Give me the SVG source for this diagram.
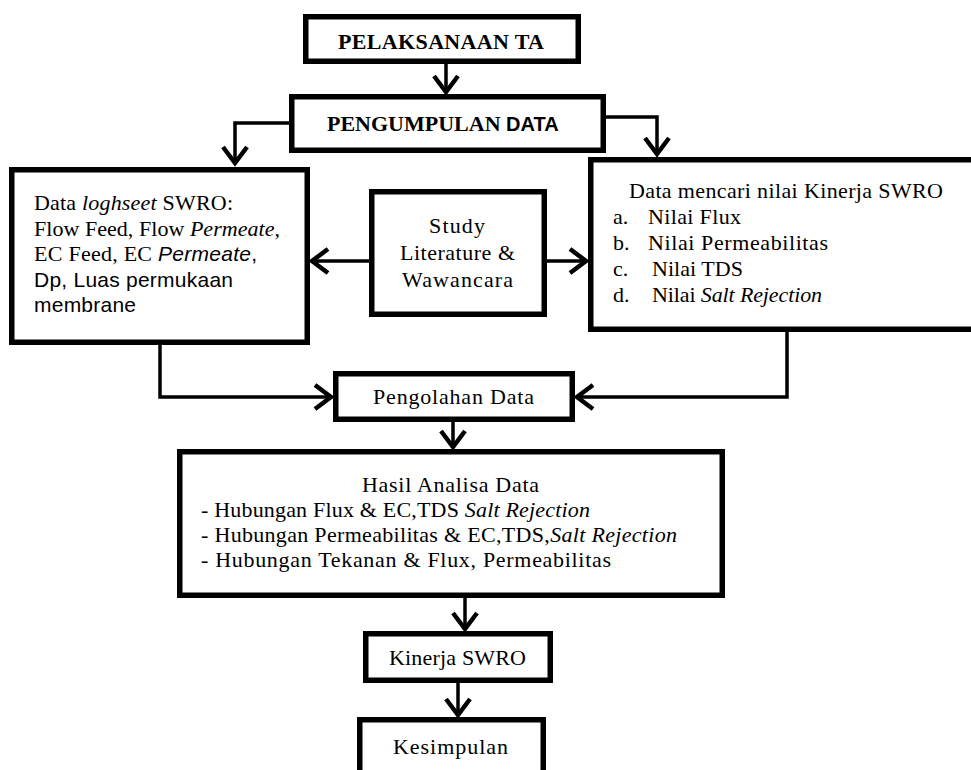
<svg xmlns="http://www.w3.org/2000/svg" width="971" height="770" viewBox="0 0 971 770">
<defs>
<style>
.box{fill:#fff;stroke:#000;stroke-width:5.5}
.con{fill:none;stroke:#000;stroke-width:3.5}
.t{font-family:"Liberation Serif","Times New Roman",serif;font-size:22px;fill:#000}
.s{font-family:"Liberation Sans",Arial,sans-serif;font-size:21px;fill:#000}
.b{font-weight:bold}
.i{font-style:italic}
</style>
<marker id="v" markerUnits="userSpaceOnUse" viewBox="-22 -16 26 32" markerWidth="26" markerHeight="32" refX="0" refY="0" orient="auto">
<path d="M-16,-12 L0,0 L-16,12" fill="none" stroke="#000" stroke-width="4.5"/>
</marker>
</defs>
<rect width="971" height="770" fill="#fff"/>
<g id="connectors">
<path class="con" d="M446,64 V92" marker-end="url(#v)"/>
<path class="con" d="M289,123 H235 V163" marker-end="url(#v)"/>
<path class="con" d="M606,117 H657 V154" marker-end="url(#v)"/>
<path class="con" d="M369,261 H312" marker-end="url(#v)"/>
<path class="con" d="M547,261 H586" marker-end="url(#v)"/>
<path class="con" d="M160,345 V397 H331" marker-end="url(#v)"/>
<path class="con" d="M787,332 V397 H577" marker-end="url(#v)"/>
<path class="con" d="M453,422 V447" marker-end="url(#v)"/>
<path class="con" d="M465,598 V629" marker-end="url(#v)"/>
<path class="con" d="M458,683 V715" marker-end="url(#v)"/>
</g>
<g id="pelaksanaan">
<rect class="box" x="305.75" y="16.75" width="272.5" height="44.5"/>
<text class="t b" x="338" y="49" textLength="206">PELAKSANAAN TA</text>
</g>
<g id="pengumpulan">
<rect class="box" x="291.75" y="96.75" width="311.5" height="53.5"/>
<text class="t b" x="327" y="131">PENGUMPULAN <tspan class="s b" style="font-size:20px">DATA</tspan></text>
</g>
<g id="logsheet">
<rect class="box" x="11.75" y="169.75" width="295.5" height="172.5"/>
<text class="t" x="34" y="210" textLength="199">Data <tspan class="i">loghseet</tspan> SWRO:</text>
<text class="t" x="34" y="235.5" textLength="246">Flow Feed, Flow <tspan class="i">Permeate</tspan>,</text>
<text class="t" x="34" y="261" textLength="223">EC Feed, EC <tspan class="s i">Permeate</tspan><tspan class="s">,</tspan></text>
<text class="s" x="34" y="286.5" textLength="199">Dp, Luas permukaan</text>
<text class="s" x="34" y="312" textLength="102">membrane</text>
</g>
<g id="study">
<rect class="box" x="371.75" y="191.75" width="172.5" height="122.5"/>
<text class="t" x="429" y="233" textLength="56">Study</text>
<text class="t" x="400" y="260" textLength="115">Literature &amp;</text>
<text class="t" x="402" y="287" textLength="111">Wawancara</text>
</g>
<g id="kinerja-data">
<rect class="box" x="590.75" y="159.75" width="400" height="169.5"/>
<text class="t" x="629" y="198" textLength="314">Data mencari nilai Kinerja SWRO</text>
<text class="t" x="613" y="224">a.</text>
<text class="t" x="648" y="224" textLength="93">Nilai Flux</text>
<text class="t" x="613" y="250">b.</text>
<text class="t" x="648" y="250" textLength="180">Nilai Permeabilitas</text>
<text class="t" x="613" y="276">c.</text>
<text class="t" x="652" y="276" textLength="91">Nilai TDS</text>
<text class="t" x="613" y="302">d.</text>
<text class="t" x="652" y="302" textLength="170">Nilai <tspan class="i">Salt Rejection</tspan></text>
</g>
<g id="pengolahan">
<rect class="box" x="335.75" y="373.75" width="236.5" height="45.5"/>
<text class="t" x="373" y="404" textLength="161">Pengolahan Data</text>
</g>
<g id="hasil">
<rect class="box" x="179.75" y="451.75" width="542.5" height="143.5"/>
<text class="t" x="362" y="492" textLength="177">Hasil Analisa Data</text>
<text class="t" x="201" y="517" textLength="389">- Hubungan Flux &amp; EC,TDS <tspan class="i">Salt Rejection</tspan></text>
<text class="t" x="201" y="542" textLength="476">- Hubungan Permeabilitas &amp; EC,TDS,<tspan class="i">Salt Rejection</tspan></text>
<text class="t" x="201" y="567" textLength="410">- Hubungan Tekanan &amp; Flux, Permeabilitas</text>
</g>
<g id="kinerja">
<rect class="box" x="365.75" y="633.75" width="184.5" height="46.5"/>
<text class="t" x="389" y="665" textLength="137">Kinerja SWRO</text>
</g>
<g id="kesimpulan">
<rect class="box" x="359.75" y="719.75" width="183.5" height="100"/>
<text class="t" x="393" y="754" textLength="115">Kesimpulan</text>
</g>
</svg>
